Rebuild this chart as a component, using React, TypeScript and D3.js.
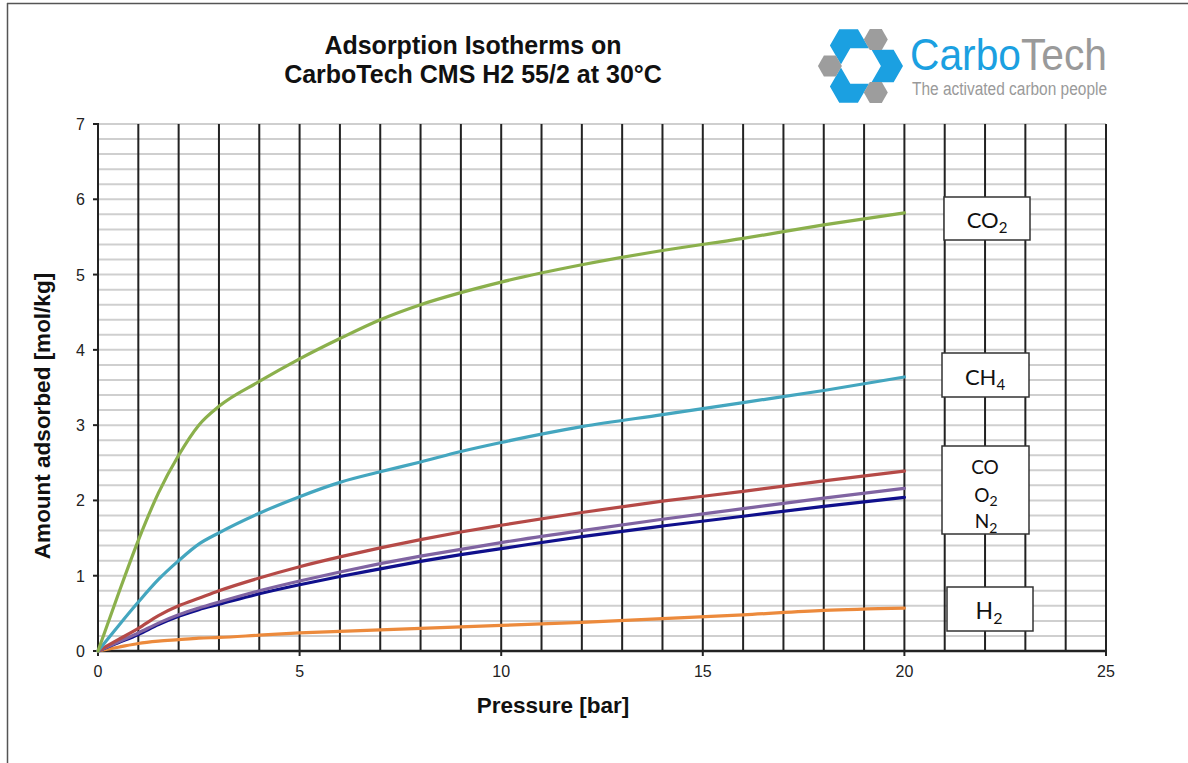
import React from "react";
import * as d3 from "d3";

// Pressure grid (bar) shared by all isotherms
const pressures = [0, 0.5, 1, 1.5, 2, 2.5, 3, 4, 5, 6, 7, 8, 9, 10, 12, 14, 16, 18, 20];

// Amount adsorbed (mol/kg) per gas
const co2 = [0, 0.75, 1.47, 2.1, 2.6, 3.0, 3.25, 3.58, 3.88, 4.15, 4.4, 4.6, 4.76, 4.9, 5.13, 5.32, 5.48, 5.66, 5.82];
const ch4 = [0, 0.33, 0.65, 0.95, 1.2, 1.42, 1.57, 1.83, 2.05, 2.24, 2.38, 2.51, 2.65, 2.77, 2.98, 3.14, 3.3, 3.46, 3.64];
const co = [0, 0.15, 0.3, 0.47, 0.6, 0.7, 0.8, 0.97, 1.12, 1.25, 1.37, 1.48, 1.58, 1.67, 1.84, 1.99, 2.12, 2.26, 2.39];
const o2 = [0, 0.12, 0.24, 0.37, 0.48, 0.57, 0.65, 0.8, 0.93, 1.05, 1.16, 1.26, 1.35, 1.44, 1.6, 1.75, 1.89, 2.03, 2.16];
const n2 = [0, 0.11, 0.22, 0.35, 0.46, 0.55, 0.62, 0.76, 0.88, 0.99, 1.09, 1.19, 1.28, 1.36, 1.52, 1.66, 1.79, 1.92, 2.04];
const h2 = [0, 0.05, 0.1, 0.13, 0.15, 0.17, 0.18, 0.21, 0.24, 0.26, 0.28, 0.3, 0.32, 0.34, 0.38, 0.43, 0.48, 0.54, 0.57];

const seriesNames = ["H2", "N2", "O2", "CO", "CH4", "CO2"];
const seriesValues = [h2, n2, o2, co, ch4, co2];
const seriesColors = ["#ec8a3c", "#10108c", "#8064a2", "#b54a47", "#44a6bf", "#8bb04c"];

const xTicks = [0, 5, 10, 15, 20, 25];
const yTicks = [0, 1, 2, 3, 4, 5, 6, 7];

const titleLines = ["Adsorption Isotherms on", "CarboTech CMS H2 55/2 at 30°C"];

export default function App() {
  const x = d3.scaleLinear().domain([0, 25]).range([98, 1106]);
  const y = d3.scaleLinear().domain([0, 7]).range([651, 124]);

  const line = d3
    .line<[number, number]>()
    .x((d) => x(d[0]))
    .y((d) => y(d[1]))
    .curve(d3.curveMonotoneX);

  const minorY = d3.range(0, 7.001, 0.2);
  const majorX = d3.range(1, 26, 1);

  // logo geometry: hexagonal ring of chevrons and small hexagons
  const cx = 860.5;
  const cy = 66;
  const R = 42.5;
  const vert = (k: number) => {
    const a = (k * Math.PI) / 3;
    return [cx + R * Math.cos(a), cy + R * Math.sin(a)];
  };
  const hexPath = (hx: number, hy: number, r: number) =>
    d3.range(6)
      .map((k) => {
        const a = (k * Math.PI) / 3;
        return `${hx + r * Math.cos(a)},${hy + r * Math.sin(a)}`;
      })
      .join(" ");
  const chevron = (k: number) => {
    const V = vert(k);
    const P = vert(k - 1);
    const N = vert(k + 1);
    const f = 0.44;
    const A = [V[0] + f * (P[0] - V[0]), V[1] + f * (P[1] - V[1])];
    const B = [V[0] + f * (N[0] - V[0]), V[1] + f * (N[1] - V[1])];
    const t = 0.52;
    const dx = (V[0] - cx) * t;
    const dy = (V[1] - cy) * t;
    const pts = [A, V, B, [B[0] - dx, B[1] - dy], [V[0] - dx, V[1] - dy], [A[0] - dx, A[1] - dy]];
    return pts.map((p) => p.join(",")).join(" ");
  };
  const grayHexes = [3, 5, 1].map((k) => {
    const V = vert(k);
    return [cx + 0.72 * (V[0] - cx), cy + 0.72 * (V[1] - cy)];
  });

  const axisFont = "'Liberation Sans', Arial, sans-serif";
  const boxFont = "Lato, 'Open Sans', sans-serif";

  return (
    <div style={{ position: "absolute", left: 0, top: 0 }}>
      <svg width={1188} height={763} style={{ display: "block", background: "#fff" }}>
        {/* page frame */}
        <line x1={7} y1={3.5} x2={1188} y2={3.5} stroke="#555" strokeWidth={1.5} />
        <line x1={7.5} y1={3} x2={7.5} y2={763} stroke="#555" strokeWidth={1.5} />

        {/* title */}
        {titleLines.map((t, i) => (
          <text
            key={t}
            x={473}
            y={54 + i * 29}
            textAnchor="middle"
            fontFamily={axisFont}
            fontWeight="bold"
            fontSize={25}
            fill="#111"
          >
            {t}
          </text>
        ))}

        {/* logo */}
        {[0, 2, 4].map((k) => (
          <polygon key={k} points={chevron(k)} fill="#1ba0e1" />
        ))}
        {grayHexes.map((p, i) => (
          <polygon key={i} points={hexPath(p[0], p[1], 12)} fill="#9d9d9d" />
        ))}
        <text x={910} y={70} fontFamily={axisFont} fontSize={44} textLength={197} lengthAdjust="spacingAndGlyphs">
          <tspan fill="#1ba0e1">Carbo</tspan>
          <tspan fill="#9a9a9a">Tech</tspan>
        </text>
        <text x={912} y={95} fontFamily={axisFont} fontSize={18} fill="#9a9a9a" textLength={195} lengthAdjust="spacingAndGlyphs">
          The activated carbon people
        </text>

        {/* horizontal minor gridlines */}
        {minorY.map((v) => (
          <line key={`h${v}`} x1={x(0)} x2={x(25)} y1={y(v)} y2={y(v)} stroke="#cfcfcf" strokeWidth={2} />
        ))}
        {/* vertical gridlines every bar */}
        {majorX.map((v) => (
          <line key={`v${v}`} x1={x(v)} x2={x(v)} y1={y(7)} y2={y(0)} stroke="#222" strokeWidth={2} />
        ))}

        {/* axes */}
        <line x1={x(0)} x2={x(0)} y1={y(7) - 1} y2={y(0)} stroke="#222" strokeWidth={2} />
        <line x1={x(0)} x2={x(25) + 1} y1={y(0)} y2={y(0)} stroke="#222" strokeWidth={2.5} />
        {yTicks.map((v) => (
          <g key={`yt${v}`}>
            <line x1={x(0) - 5} x2={x(0)} y1={y(v)} y2={y(v)} stroke="#222" strokeWidth={2} />
            <text x={85} y={y(v) + 6} textAnchor="end" fontFamily={axisFont} fontSize={16} fill="#222">
              {v}
            </text>
          </g>
        ))}
        {xTicks.map((v) => (
          <g key={`xt${v}`}>
            <line x1={x(v)} x2={x(v)} y1={y(0)} y2={y(0) + 5} stroke="#222" strokeWidth={2} />
            <text x={x(v)} y={677} textAnchor="middle" fontFamily={axisFont} fontSize={16} fill="#222">
              {v}
            </text>
          </g>
        ))}

        {/* axis titles */}
        <text x={553} y={713} textAnchor="middle" fontFamily={axisFont} fontWeight="bold" fontSize={22.5} fill="#111">
          Pressure [bar]
        </text>
        <text
          transform="translate(50,416) rotate(-90)"
          textAnchor="middle"
          fontFamily={axisFont}
          fontWeight="bold"
          fontSize={22.5}
          fill="#111"
        >
          Amount adsorbed [mol/kg]
        </text>

        {/* isotherms */}
        {seriesValues.map((vals, i) => (
          <path
            key={seriesNames[i]}
            d={line(pressures.map((p, j) => [p, vals[j]] as [number, number])) || ""}
            fill="none"
            stroke={seriesColors[i]}
            strokeWidth={3.2}
            strokeLinejoin="round"
            strokeLinecap="round"
          />
        ))}

        {/* gas labels */}
        <g fontFamily={boxFont} fill="#111">
          <rect x={944} y={197} width={86} height={43} fill="#fff" stroke="#333" strokeWidth={1.5} />
          <text x={987} y={228} textAnchor="middle" fontSize={22}>
            CO<tspan fontSize={15} dy={5}>2</tspan>
          </text>

          <rect x={942} y={353} width={87} height={44} fill="#fff" stroke="#333" strokeWidth={1.5} />
          <text x={985} y={385} textAnchor="middle" fontSize={22}>
            CH<tspan fontSize={15} dy={5}>4</tspan>
          </text>

          <rect x={942} y={446} width={87} height={88} fill="#fff" stroke="#333" strokeWidth={1.5} />
          <text x={985} y={474} textAnchor="middle" fontSize={19}>
            CO
          </text>
          <text x={986} y={502} textAnchor="middle" fontSize={19}>
            O<tspan fontSize={14} dy={4}>2</tspan>
          </text>
          <text x={986} y={528} textAnchor="middle" fontSize={19}>
            N<tspan fontSize={14} dy={5}>2</tspan>
          </text>

          <rect x={947} y={587} width={86} height={44} fill="#fff" stroke="#333" strokeWidth={1.5} />
          <text x={989} y={619} textAnchor="middle" fontSize={23}>
            H<tspan fontSize={16} dy={5}>2</tspan>
          </text>
        </g>
      </svg>
    </div>
  );
}
